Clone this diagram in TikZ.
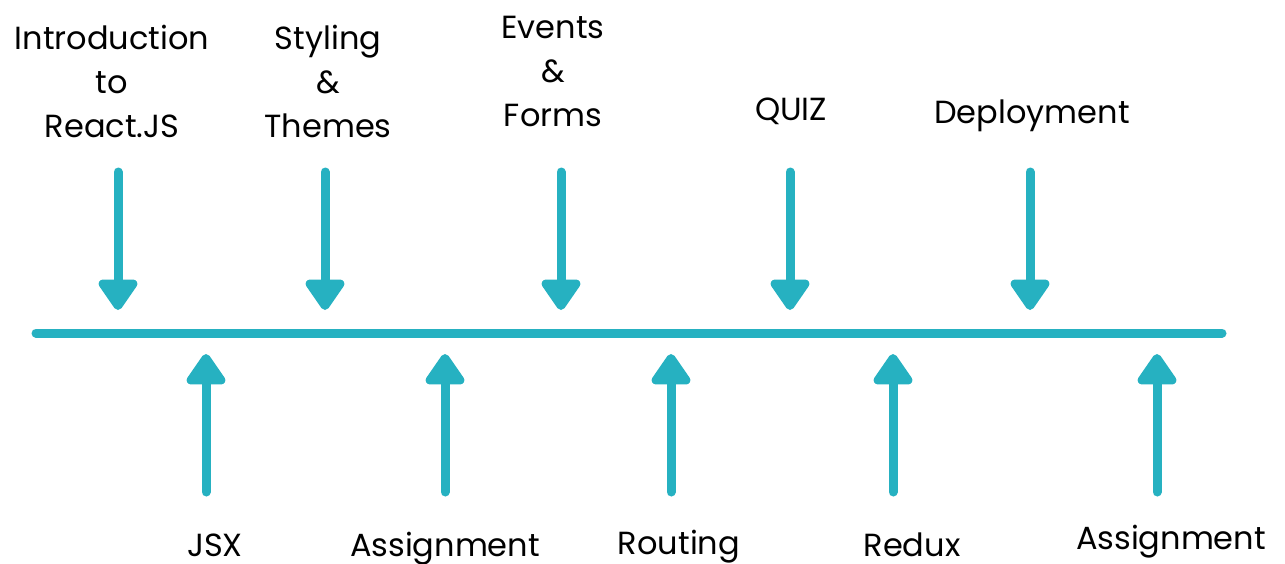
\documentclass[tikz,border=0pt]{standalone}
\usepackage{fontspec}
\setmainfont{Poppins}
\usetikzlibrary{arrows.meta}
\definecolor{teal}{RGB}{38,177,193}
\tikzset{
    arr/.style={draw=teal,line width=9pt,line cap=round,
        -{Triangle[width=44pt,length=34pt,round]}},
    topic/.style={inner sep=0pt,align=center,
        font=\fontsize{32}{44}\selectfont}}

\begin{document}
\begin{tikzpicture}[x=1pt,y=1pt,yscale=-1,xscale=1]
\path[use as bounding box] (0,0) rectangle (1285,563);

%Straight Lines [timeline]
\coordinate (tl) at (36,333);
\coordinate (tr) at (1222,333);
\draw [draw=teal,line width=9pt,line cap=round] (tl) -- (tr);

%Down arrows
\coordinate (d1s) at (118,172); \coordinate (d1e) at (118,310);
\coordinate (d2s) at (325,172); \coordinate (d2e) at (325,310);
\coordinate (d3s) at (561,172); \coordinate (d3e) at (561,310);
\coordinate (d4s) at (790,172); \coordinate (d4e) at (790,310);
\coordinate (d5s) at (1030,172); \coordinate (d5e) at (1030,310);
\draw [arr] (d1s) -- (d1e);
\draw [arr] (d2s) -- (d2e);
\draw [arr] (d3s) -- (d3e);
\draw [arr] (d4s) -- (d4e);
\draw [arr] (d5s) -- (d5e);

%Up arrows
\coordinate (u1s) at (206,492); \coordinate (u1e) at (206,354);
\coordinate (u2s) at (445,492); \coordinate (u2e) at (445,354);
\coordinate (u3s) at (671,492); \coordinate (u3e) at (671,354);
\coordinate (u4s) at (893,492); \coordinate (u4e) at (893,354);
\coordinate (u5s) at (1157,492); \coordinate (u5e) at (1157,354);
\draw [arr] (u1s) -- (u1e);
\draw [arr] (u2s) -- (u2e);
\draw [arr] (u3s) -- (u3e);
\draw [arr] (u4s) -- (u4e);
\draw [arr] (u5s) -- (u5e);

% Text Node
\node [topic] (intro) at (112,81) {Introduction\\to\\React.JS};
% Text Node
\node [topic] (styling) at (328,81) {Styling\\\&\\Themes};
% Text Node
\node [topic] (events) at (553,71) {Events\\\&\\Forms};
% Text Node
\node [topic] (quiz) at (791,111) {QUIZ};
% Text Node
\node [topic] (deploy) at (1032,116) {Deployment};
% Text Node
\node [topic] (jsx) at (215,545) {JSX};
% Text Node
\node [topic] (assign1) at (445,549) {Assignment};
% Text Node
\node [topic] (routing) at (679,547) {Routing};
% Text Node
\node [topic] (redux) at (912,545) {Redux};
% Text Node
\node [topic] (assign2) at (1171,542) {Assignment};

\end{tikzpicture}
\end{document}
